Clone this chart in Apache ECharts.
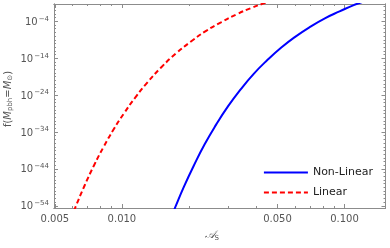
<!DOCTYPE html>
<html>
<head>
<meta charset="utf-8">
<script src="https://cdn.jsdelivr.net/npm/echarts@6/dist/echarts.min.js"></script>
<style>
  html, body { margin: 0; padding: 0; background: #fff; }
  #chartWrapper { width: 390px; height: 248px; }
</style>
</head>
<body>
<div id="chartWrapper"></div>
<script>
// 資料: A_s 與 log10 f
const linearAs = [0.0059, 0.0062, 0.0068, 0.0075, 0.0083, 0.0092, 0.0102, 0.0115, 0.013, 0.015, 0.0175, 0.0205, 0.024, 0.028, 0.033, 0.038, 0.043, 0.049]
const linearLogF = [-57.4, -54.2, -48.5, -43.0, -37.9, -33.2, -29.0, -24.6, -20.6, -16.5, -12.7, -9.4, -6.5, -4.2, -2.0, -0.4, 0.8, 1.9]
const nonLinearAs = [0.0168, 0.0175, 0.019, 0.021, 0.0235, 0.0265, 0.03, 0.034, 0.039, 0.045, 0.052, 0.06, 0.07, 0.082, 0.095, 0.11, 0.13]
const nonLinearLogF = [-56.6, -53.9, -48.8, -43.2, -37.4, -32.0, -27.0, -22.6, -18.3, -14.5, -11.1, -8.2, -5.5, -3.1, -1.3, 0.4, 1.9]

const xMajorTicks = [0.005, 0.01, 0.05, 0.1]
const xTickLabels = ["0.005", "0.010", "0.050", "0.100"]
const xMinorTicks = [0.006, 0.007, 0.008, 0.009, 0.02, 0.03, 0.04, 0.06, 0.07, 0.08, 0.09]
const yMajorTicks = [-54, -44, -34, -24, -14, -4]
const yMinorTicks = []
for (let e = -54; e <= 0; e++) yMinorTicks.push(e)

const xMin = -2.305, xMax = -0.816
const yMin = -54.6, yMax = 0.7

const frameColor = "#8c8c8c"
const textColor = "#555"
const fontFamily = "DejaVu Sans"

const toPairs = (xs, ys) => xs.map((v, i) => [Math.log10(v), ys[i]])

// 建立一組座標軸 (主刻度 / 次刻度)
function makeX(position, ticks, len, showLabel) {
	return {
		type: "value", position: position, min: xMin, max: xMax,
		axisLine: { show: true, onZero: false, lineStyle: { color: frameColor, width: 1 } },
		axisTick: { show: true, inside: true, length: len, customValues: ticks.map(Math.log10), lineStyle: { color: frameColor } },
		axisLabel: showLabel ? {
			show: true, customValues: xMajorTicks.map(Math.log10), margin: 6,
			color: textColor, fontSize: 10, fontFamily: fontFamily,
			formatter: (v) => {
				const i = xMajorTicks.findIndex(t => Math.abs(Math.log10(t) - v) < 1e-6)
				return i >= 0 ? xTickLabels[i] : ""
			}
		} : { show: false },
		splitLine: { show: false }
	}
}
function makeY(position, ticks, len, showLabel) {
	return {
		type: "value", position: position, min: yMin, max: yMax,
		axisLine: { show: true, onZero: false, lineStyle: { color: frameColor, width: 1 } },
		axisTick: { show: true, inside: true, length: len, customValues: ticks, lineStyle: { color: frameColor } },
		axisLabel: showLabel ? {
			show: true, customValues: yMajorTicks, margin: 5,
			formatter: (v) => "{b|10}{s|" + String(v).replace("-", "\u2212") + "}",
			rich: {
				b: { fontSize: 10, color: textColor, fontFamily: fontFamily, lineHeight: 12, verticalAlign: "bottom" },
				s: { fontSize: 7, color: textColor, fontFamily: fontFamily, lineHeight: 7, verticalAlign: "top", padding: [0, 0, 0, 1] }
			}
		} : { show: false },
		splitLine: { show: false }
	}
}

const myChart = echarts.init(document.getElementById("chartWrapper"))

let option = {
	animation: false,
	grid: { left: 54, right: 4.5, top: 4, bottom: 40, containLabel: false, outerBoundsMode: "none" },
	xAxis: [
		Object.assign(makeX("bottom", xMajorTicks, 4, true), {
			name: "{a|\uD835\uDC9C}{s|S}", nameLocation: "middle", nameGap: 21, nameMoveOverlap: false,
			nameTextStyle: { padding: [0, 16, 0, 0], rich: {
				a: { fontSize: 11, color: textColor, fontFamily: fontFamily, fontStyle: "italic" },
				s: { fontSize: 7, color: textColor, fontFamily: fontFamily, verticalAlign: "bottom", padding: [6, 0, 0, 0] }
			} }
		}),
		makeX("bottom", xMinorTicks, 2, false),
		makeX("top", xMajorTicks, 4, false),
		makeX("top", xMinorTicks, 2, false)
	],
	yAxis: [
		Object.assign(makeY("left", yMajorTicks, 4, true), {
			name: "{n|f(}{i|M}{u|pbh}{n|=}{i|M}{u|\u2299}{n|)}", nameLocation: "middle", nameGap: 40, nameRotate: 90,
			nameMoveOverlap: false,
			nameTextStyle: { padding: [0, 0, 0, 14], rich: {
				n: { fontSize: 10, color: textColor, fontFamily: fontFamily },
				i: { fontSize: 10, color: textColor, fontFamily: fontFamily, fontStyle: "italic" },
				u: { fontSize: 7, color: textColor, fontFamily: fontFamily, padding: [5, 0, 0, 0] }
			} }
		}),
		makeY("left", yMinorTicks, 2, false),
		makeY("right", yMajorTicks, 4, false),
		makeY("right", yMinorTicks, 2, false)
	],
	legend: {
		orient: "vertical", right: 12, top: 162, itemGap: 9,
		itemWidth: 44, itemHeight: 12,
		itemStyle: { opacity: 0 },
		textStyle: { fontSize: 11, color: "#222", fontFamily: fontFamily },
		data: ["Non-Linear", "Linear"]
	},
	series: [
		{
			name: "Non-Linear", type: "line", smooth: true, showSymbol: false, symbol: "none",
			xAxisIndex: 0, yAxisIndex: 0, clip: true,
			lineStyle: { color: "#0000ff", width: 2 }, itemStyle: { color: "#0000ff" },
			data: toPairs(nonLinearAs, nonLinearLogF)
		},
		{
			name: "Linear", type: "line", smooth: true, showSymbol: false, symbol: "none",
			xAxisIndex: 0, yAxisIndex: 0, clip: true,
			lineStyle: { color: "#ff0000", width: 2, type: [5, 3] }, itemStyle: { color: "#ff0000" },
			data: toPairs(linearAs, linearLogF)
		}
	]
}

myChart.setOption(option)
</script>
</body>
</html>
